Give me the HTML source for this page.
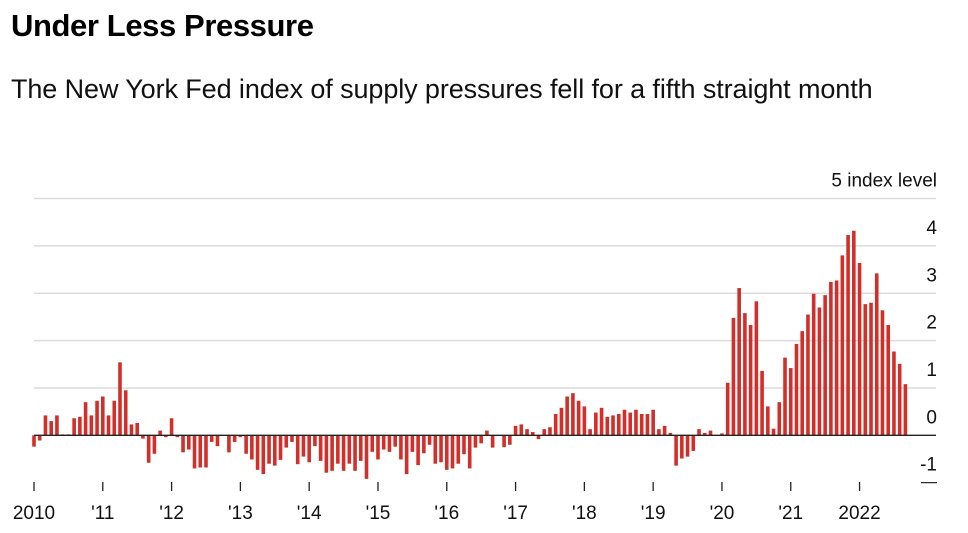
<!DOCTYPE html>
<html><head><meta charset="utf-8"><style>
body{margin:0;background:#fff;font-family:"Liberation Sans",sans-serif;}
#wrap{position:relative;width:968px;height:533px;overflow:hidden;}
h1{position:absolute;left:11px;top:8px;margin:0;font-size:31px;font-weight:bold;color:#000;letter-spacing:-0.4px;white-space:nowrap;}
p{position:absolute;left:11px;top:74px;margin:0;font-size:27px;color:#111;white-space:nowrap;letter-spacing:-0.1px;}
svg{position:absolute;left:0;top:0;}
</style></head><body>
<div id="wrap">
<h1>Under Less Pressure</h1>
<p>The New York Fed index of supply pressures fell for a fifth straight month</p>
<svg id="chart" width="968" height="533"></svg>
</div>
<script>
const values = [
-0.24,-0.11,0.42,0.30,0.42,0.02,0.02,0.36,0.39,0.70,0.42,0.73,
0.82,0.42,0.73,1.54,0.95,0.23,0.26,-0.07,-0.58,-0.39,0.10,-0.04,
0.36,-0.04,-0.36,-0.30,-0.70,-0.68,-0.68,-0.14,-0.23,-0.01,-0.36,-0.14,
-0.04,-0.39,-0.51,-0.73,-0.82,-0.60,-0.64,-0.52,-0.26,-0.14,-0.61,-0.45,
-0.57,-0.23,-0.54,-0.79,-0.75,-0.60,-0.75,-0.60,-0.75,-0.54,-0.92,-0.35,
-0.51,-0.30,-0.35,-0.24,-0.51,-0.82,-0.35,-0.63,-0.38,-0.20,-0.60,-0.57,
-0.73,-0.70,-0.60,-0.40,-0.70,-0.26,-0.17,0.10,-0.26,0.00,-0.25,-0.20,
0.20,0.23,0.13,0.07,-0.08,0.13,0.17,0.45,0.58,0.82,0.89,0.73,
0.61,0.13,0.48,0.58,0.39,0.42,0.45,0.54,0.48,0.54,0.45,0.45,
0.54,0.13,0.20,0.05,-0.64,-0.49,-0.45,-0.33,0.13,0.05,0.10,-0.01,
0.04,1.11,2.48,3.11,2.58,2.33,2.83,1.36,0.61,0.14,0.70,1.64,
1.42,1.93,2.20,2.55,2.99,2.70,2.96,3.24,3.27,3.80,4.23,4.32,
3.64,2.77,2.80,3.42,2.64,2.33,1.77,1.51,1.08
];
const yearLabels = ["2010","'11","'12","'13","'14","'15","'16","'17","'18","'19","'20","'21","2022"];
const yTicks = [-1,0,1,2,3,4,5];
const NS="http://www.w3.org/2000/svg";
const svg=document.getElementById('chart');
const x0=34, monthW=5.733, xR=936;
const y0=435.3, unit=47.35;
const xScale=m=>x0+m*monthW;
const yScale=v=>y0-v*unit;
function mk(tag,attrs){const e=document.createElementNS(NS,tag);for(const k in attrs)e.setAttribute(k,attrs[k]);svg.appendChild(e);return e;}
yTicks.forEach(t=>{
  const y=yScale(t);
  if(t>0){const g=mk('line',{x1:x0,x2:xR,y1:y,y2:y,stroke:'#dcdcdc','stroke-width':1.5});
    
    }
  if(t<0){const d=mk('line',{x1:921,x2:937,y1:y,y2:y,stroke:'#222','stroke-width':1.2});
    
    }
  const tx=mk('text',{x:937,y:y-12,'text-anchor':'end','font-size':19,fill:'#111','font-family':'Liberation Sans, sans-serif'});
  tx.textContent = t===5 ? '5 index level' : String(t);
  
  
});
values.forEach((v,i)=>{
  const x=xScale(i)-1.8;
  const y=Math.min(yScale(v),y0), h=Math.abs(yScale(v)-y0);
  const b=mk('rect',{x:x,y:y,width:3.6,height:Math.max(h,0.5),fill:'#d22f2a'});
  
  
});
const base=mk('line',{x1:x0,x2:xR,y1:y0,y2:y0,stroke:'#222','stroke-width':1.3});


yearLabels.forEach((l,i)=>{
  const x=xScale(i*12);
  const t=mk('line',{x1:x,x2:x,y1:482,y2:491,stroke:'#222','stroke-width':1.3});
  
  
  const tx=mk('text',{x:x,y:519,'text-anchor':'middle','font-size':19,fill:'#111','font-family':'Liberation Sans, sans-serif'});
  tx.textContent=l;
  
  
});
</script>
</body></html>
